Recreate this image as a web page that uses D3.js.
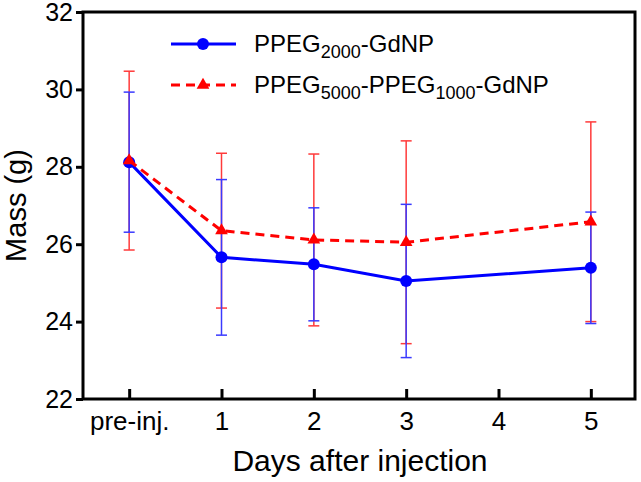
<!DOCTYPE html>
<html>
<head>
<meta charset="utf-8">
<script src="https://cdn.jsdelivr.net/npm/d3@7"></script>
<style>
  body { margin: 0; background: #fff; }
  svg { font-family: Arial, "Liberation Sans", sans-serif; }
</style>
</head>
<body>
<div id="vis"></div>
<script>
// x positions: 0 = pre-injection, then days after injection
const days = [0, 1, 2, 3, 5];
const tickValues = [0, 1, 2, 3, 4, 5];
const tickLabels = ['pre-inj.', '1', '2', '3', '4', '5'];
const yTicks = [22, 24, 26, 28, 30, 32];

// PPEG2000-GdNP
const meanA = [28.12, 25.66, 25.48, 25.05, 25.39];
const sdA = [1.81, 2.01, 1.46, 1.98, 1.44];
// PPEG5000-PPEG1000-GdNP
const meanB = [28.16, 26.35, 26.11, 26.05, 26.58];
const sdB = [2.31, 2.0, 2.22, 2.62, 2.58];

const width = 641, height = 482;

const svg = d3.select('#vis')
  .append('svg')
  .attr('width', width)
  .attr('height', height);

const x = d3.scaleLinear().domain([-0.5, 5.5]).range([83, 637]);
const y = d3.scaleLinear().domain([22, 32]).range([399, 12]);

// series as arrays of points
const seriesA = days.map((d, i) => ({ day: d, mean: meanA[i], sd: sdA[i] }));
const seriesB = days.map((d, i) => ({ day: d, mean: meanB[i], sd: sdB[i] }));

// error bars (red first, blue on top)
function errorBars(data, color, cls) {
  const g = svg.append('g').attr('class', cls)
    .attr('stroke', color)
    .attr('stroke-width', 1.5);
  g.selectAll('.v').data(data).enter().append('line')
    .attr('x1', d => x(d.day)).attr('x2', d => x(d.day))
    .attr('y1', d => y(d.mean - d.sd)).attr('y2', d => y(d.mean + d.sd));
  g.selectAll('.top').data(data).enter().append('line')
    .attr('x1', d => x(d.day) - 5.5).attr('x2', d => x(d.day) + 5.5)
    .attr('y1', d => y(d.mean + d.sd)).attr('y2', d => y(d.mean + d.sd));
  g.selectAll('.bot').data(data).enter().append('line')
    .attr('x1', d => x(d.day) - 5.5).attr('x2', d => x(d.day) + 5.5)
    .attr('y1', d => y(d.mean - d.sd)).attr('y2', d => y(d.mean - d.sd));
}
errorBars(seriesB, '#ff3a3a', 'err-b');
errorBars(seriesA, '#3a3aff', 'err-a');

const line = d3.line().x(d => x(d.day)).y(d => y(d.mean));

// blue solid line with circles
svg.append('path')
  .datum(seriesA)
  .attr('d', line)
  .attr('fill', 'none')
  .attr('stroke', '#0000ff')
  .attr('stroke-width', 3);

svg.selectAll('.dotA')
  .data(seriesA)
  .enter()
  .append('circle')
  .attr('class', 'dotA')
  .attr('cx', d => x(d.day))
  .attr('cy', d => y(d.mean))
  .attr('r', 6)
  .attr('fill', '#0000ff');

// red dashed line with triangles
svg.append('path')
  .datum(seriesB)
  .attr('d', line)
  .attr('fill', 'none')
  .attr('stroke', '#ff0000')
  .attr('stroke-width', 3)
  .attr('stroke-dasharray', '9,6');

const tri = d3.symbol().type(d3.symbolTriangle).size(70);
svg.selectAll('.triB')
  .data(seriesB)
  .enter()
  .append('path')
  .attr('class', 'triB')
  .attr('d', tri)
  .attr('transform', d => `translate(${x(d.day)},${y(d.mean)})`)
  .attr('fill', '#ff0000');

// axes
const xAxis = d3.axisBottom(x)
  .tickValues(tickValues)
  .tickFormat((d, i) => tickLabels[i])
  .tickSizeInner(-10)
  .tickSizeOuter(0)
  .tickPadding(13);

const gx = svg.append('g')
  .attr('transform', `translate(0,${y(22)})`)
  .call(xAxis);

const yAxis = d3.axisLeft(y)
  .tickValues(yTicks)
  .tickSizeInner(7)
  .tickSizeOuter(0)
  .tickPadding(3);

const gy = svg.append('g')
  .attr('transform', `translate(${x(-0.5)},0)`)
  .call(yAxis);

[gx, gy].forEach(g => {
  g.select('.domain').remove();
  g.selectAll('.tick line').attr('stroke', '#000').attr('stroke-width', 3);
  g.selectAll('.tick text')
    .attr('fill', '#000')
    .style('font-size', '26px')
    .style('font-family', 'Arial, "Liberation Sans", sans-serif');
});
gy.selectAll('.tick text').style('font-size', '25px');

// frame
svg.append('rect')
  .attr('x', x(-0.5))
  .attr('y', y(32))
  .attr('width', x(5.5) - x(-0.5) - 2)
  .attr('height', y(22) - y(32))
  .attr('fill', 'none')
  .attr('stroke', '#000')
  .attr('stroke-width', 3);

// axis titles
svg.append('text')
  .attr('x', (x(-0.5) + x(5.5)) / 2)
  .attr('y', 471)
  .attr('text-anchor', 'middle')
  .style('font-size', '30px')
  .text('Days after injection');

svg.append('text')
  .attr('transform', `translate(26,${(y(22) + y(32)) / 2}) rotate(-90)`)
  .attr('text-anchor', 'middle')
  .style('font-size', '29px')
  .text('Mass (g)');

// legend
const legend = svg.append('g');
legend.append('line')
  .attr('x1', 171).attr('x2', 236).attr('y1', 44).attr('y2', 44)
  .attr('stroke', '#0000ff').attr('stroke-width', 3);
legend.append('circle')
  .attr('cx', 203).attr('cy', 44).attr('r', 6).attr('fill', '#0000ff');
const t1 = legend.append('text').attr('x', 254).attr('y', 52).style('font-size', '24px');
t1.append('tspan').text('PPEG');
t1.append('tspan').attr('dy', 6).style('font-size', '18px').text('2000');
t1.append('tspan').attr('dy', -6).text('-GdNP');

legend.append('line')
  .attr('x1', 171).attr('x2', 236).attr('y1', 85).attr('y2', 85)
  .attr('stroke', '#ff0000').attr('stroke-width', 3)
  .attr('stroke-dasharray', '9,6');
legend.append('path')
  .attr('d', tri)
  .attr('transform', 'translate(203,85)')
  .attr('fill', '#ff0000');
const t2 = legend.append('text').attr('x', 254).attr('y', 93).style('font-size', '24px');
t2.append('tspan').text('PPEG');
t2.append('tspan').attr('dy', 6).style('font-size', '18px').text('5000');
t2.append('tspan').attr('dy', -6).text('-PPEG');
t2.append('tspan').attr('dy', 6).style('font-size', '18px').text('1000');
t2.append('tspan').attr('dy', -6).text('-GdNP');
</script>
</body>
</html>
